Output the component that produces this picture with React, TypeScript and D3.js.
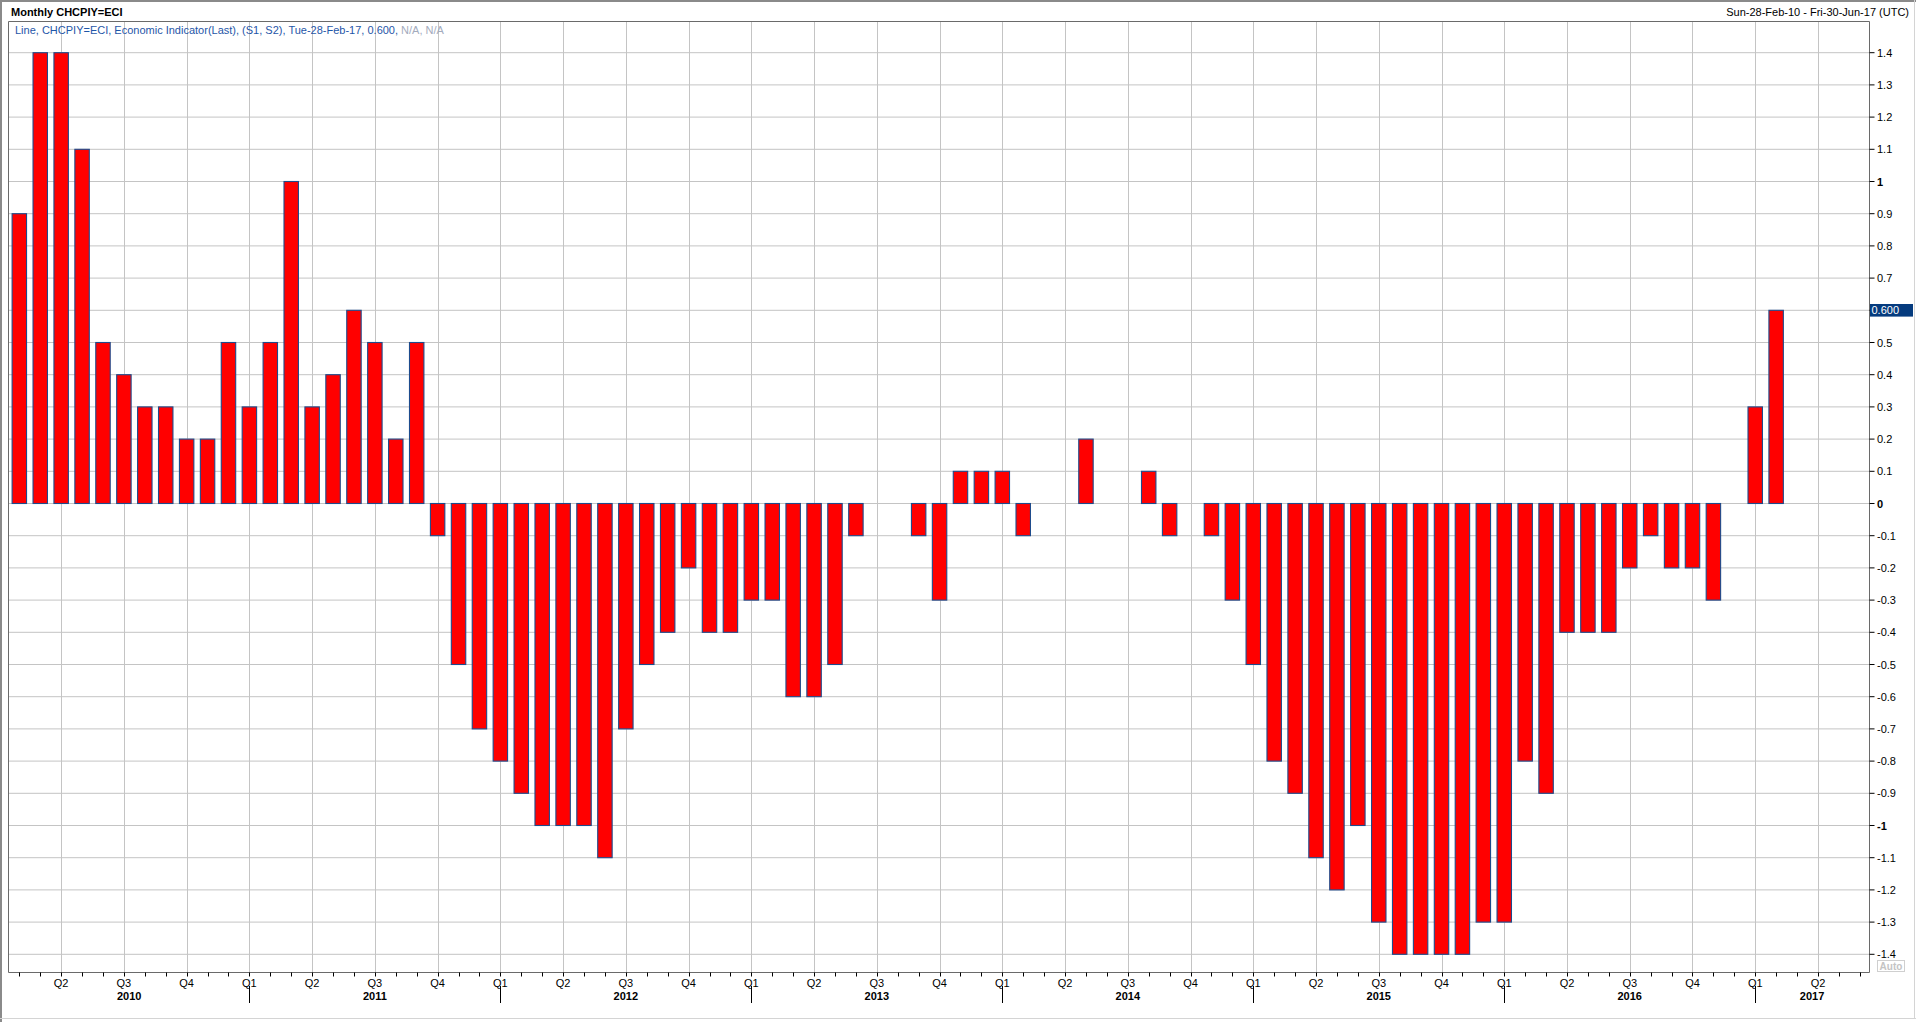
import React from "react";
import * as d3 from "d3";

// Monthly CHCPIY=ECI values, Feb-2010 .. Feb-2017
const values: number[] = [
  0.9, 1.4, 1.4, 1.1, 0.5, 0.4, 0.3, 0.3, 0.2, 0.2,
  0.5, 0.3, 0.5, 1.0, 0.3, 0.4, 0.6, 0.5, 0.2, 0.5,
  -0.1, -0.5, -0.7, -0.8, -0.9, -1.0, -1.0, -1.0, -1.1, -0.7,
  -0.5, -0.4, -0.2, -0.4, -0.4, -0.3, -0.3, -0.6, -0.6, -0.5,
  -0.1, 0, 0, -0.1, -0.3, 0.1, 0.1, 0.1, -0.1, 0,
  0, 0.2, 0, 0, 0.1, -0.1, 0, -0.1, -0.3, -0.5,
  -0.8, -0.9, -1.1, -1.2, -1.0, -1.3, -1.4, -1.4, -1.4, -1.4,
  -1.3, -1.3, -0.8, -0.9, -0.4, -0.4, -0.4, -0.2, -0.1, -0.2,
  -0.2, -0.3, 0, 0.3, 0.6,
];
const firstMonth = new Date(2010, 1, 1);
const months: Date[] = d3.timeMonth.range(firstMonth, d3.timeMonth.offset(firstMonth, values.length));
const years: number[] = [2010, 2011, 2012, 2013, 2014, 2015, 2016, 2017];
const quarterLabels: string[] = ["Q1", "Q2", "Q3", "Q4"];
const yTicks: number[] = d3.range(-14, 15).map((d) => d / 10);
const title = "Monthly CHCPIY=ECI";
const legendMain = "Line, CHCPIY=ECI, Economic Indicator(Last), (S1, S2), Tue-28-Feb-17, 0.600, ";
const legendNA = "N/A, N/A";
const dateRange = "Sun-28-Feb-10 - Fri-30-Jun-17 (UTC)";
const lastValue = 0.6;

const W = 1916;
const H = 1022;
const PL = 8.5;
const PR = 1869.5;
const PT = 21.5;
const PB = 972.5;
const FONT = "'Liberation Sans', Arial, sans-serif";

const monthIndex = (d: Date) => (d.getFullYear() - 2010) * 12 + d.getMonth();

export default function App() {
  const x = d3.scaleLinear().domain([0.506, 89.44]).range([9, 1869]);
  const y = d3.scaleLinear().domain([-1.4, 1.4]).range([954.3, 52.7]);
  const monthW = x(1) - x(0);
  const barW = monthW * 0.69;
  const [i0, i1] = x.domain();

  const monthTicks = d3.range(Math.ceil(i0), Math.floor(i1) + 1);
  const quarterTicks = monthTicks.filter((i) => i % 3 === 0);
  const yearTicks = monthTicks.filter((i) => i % 12 === 0);

  const bars = values
    .map((v, k) => ({ v, i: monthIndex(months[k]) }))
    .filter((d) => d.v !== 0);

  return (
    <div style={{ position: "absolute", left: 0, top: 0 }}>
      <svg width={W} height={H} style={{ display: "block", fontFamily: FONT }}>
        <rect x={0} y={0} width={W} height={H} fill="#ffffff" />
        {/* outer frame */}
        <line x1={0} x2={W} y1={1} y2={1} stroke="#8a8a8a" strokeWidth={2} />
        <line x1={1} x2={1} y1={0} y2={H} stroke="#8a8a8a" strokeWidth={2} />
        <line x1={1914.5} x2={1914.5} y1={0} y2={1019} stroke="#d4d4d4" strokeWidth={1} />
        <line x1={0} x2={W} y1={1018.5} y2={1018.5} stroke="#d4d4d4" strokeWidth={1} />

        {/* header */}
        <text x={11} y={16} fontSize={11} fontWeight="bold" fill="#000">{title}</text>
        <text x={1909} y={16} fontSize={11} fill="#000" textAnchor="end">{dateRange}</text>

        {/* grid */}
        {yTicks.map((t) => (
          <line key={"hy" + t} x1={PL} x2={PR} y1={y(t)} y2={y(t)} stroke="#c4c4c4" strokeWidth={1} />
        ))}
        {quarterTicks.map((i) => (
          <line key={"vx" + i} x1={Math.round(x(i)) + 0.5} x2={Math.round(x(i)) + 0.5} y1={PT} y2={PB} stroke="#c4c4c4" strokeWidth={1} />
        ))}

        {/* bars */}
        {bars.map((d) => (
          <rect
            key={"b" + d.i}
            x={x(d.i) - barW / 2}
            y={Math.min(y(0), y(d.v))}
            width={barW}
            height={Math.abs(y(d.v) - y(0))}
            fill="#ff0000"
            stroke="#1d4b8c"
            strokeWidth={1.1}
          />
        ))}

        {/* legend line */}
        <text x={15} y={34} fontSize={11} fill="#1f56a8">
          {legendMain}
          <tspan fill="#a3abbd">{legendNA}</tspan>
        </text>

        {/* plot frame */}
        <line x1={PL} x2={PL} y1={PT} y2={PB} stroke="#6a6a6a" strokeWidth={1} />
        <line x1={PL} x2={PR} y1={PT} y2={PT} stroke="#6a6a6a" strokeWidth={1} />
        <line x1={PL} x2={PR} y1={PB} y2={PB} stroke="#6a6a6a" strokeWidth={1} />
        <line x1={PR} x2={PR} y1={PT} y2={PB} stroke="#6a6a6a" strokeWidth={1} />

        {/* right axis */}
        {yTicks.map((t) => {
          const isInt = Math.abs(t - Math.round(t)) < 1e-9;
          const label = String(Math.round(t * 10) / 10);
          return (
            <g key={"ya" + t}>
              <line x1={PR} x2={PR + 5} y1={y(t)} y2={y(t)} stroke="#000" strokeWidth={1} />
              {Math.abs(t - lastValue) > 1e-9 && (
                <text x={1877} y={y(t) + 4} fontSize={11} fontWeight={isInt ? "bold" : "normal"} fill="#000">
                  {label}
                </text>
              )}
            </g>
          );
        })}
        <rect x={1870} y={y(lastValue) - 6.3} width={43} height={12.6} fill="#053b7e" />
        <text x={1871.5} y={y(lastValue) + 4} fontSize={11} fill="#ffffff">{lastValue.toFixed(3)}</text>

        {/* Auto box */}
        <rect x={1877.5} y={960.5} width={27} height={11} fill="#fff" stroke="#cfcfcf" strokeWidth={1} />
        <text x={1891} y={969.5} fontSize={10} fontWeight="bold" fill="#c4c4c4" textAnchor="middle">Auto</text>

        {/* bottom axis */}
        {monthTicks.map((i) => (
          <line key={"mt" + i} x1={Math.round(x(i)) + 0.5} x2={Math.round(x(i)) + 0.5} y1={PB} y2={PB + 4} stroke="#000" strokeWidth={1} />
        ))}
        {quarterTicks.map((i) => (
          <text key={"ql" + i} x={x(i)} y={987} fontSize={11} fill="#000" textAnchor="middle">
            {quarterLabels[(i % 12) / 3]}
          </text>
        ))}
        {yearTicks.map((i) => (
          <line key={"yt" + i} x1={Math.round(x(i)) + 0.5} x2={Math.round(x(i)) + 0.5} y1={986} y2={1003} stroke="#000" strokeWidth={1} />
        ))}
        {years.map((yr) => {
          const s = Math.max((yr - 2010) * 12, i0);
          const e = Math.min((yr - 2010 + 1) * 12, i1);
          return (
            <text key={"yl" + yr} x={(x(s) + x(e)) / 2} y={1000} fontSize={11} fontWeight="bold" fill="#000" textAnchor="middle">
              {yr}
            </text>
          );
        })}
      </svg>
    </div>
  );
}
